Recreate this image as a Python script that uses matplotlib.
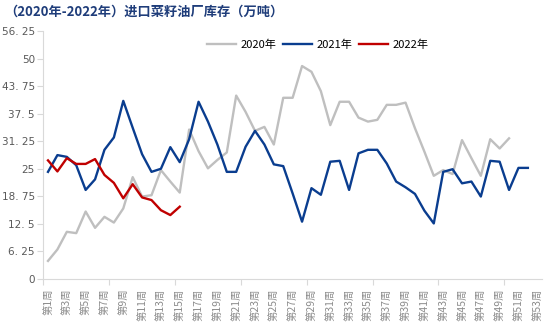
import matplotlib
matplotlib.use("Agg")
import matplotlib.pyplot as plt
import numpy as np

plt.rcParams['font.family'] = ['Noto Sans CJK SC', 'DejaVu Sans']

# weekly stock, 10k tonnes
weeks = list(range(1, 54))
y2020 = [4.1, 6.7, 10.7, 10.4, 15.3, 11.6, 14.1, 12.8, 16.0, 23.1,
         18.7, 19.0, 24.7, 22.1, 19.6, 33.9, 29.0, 25.1, 27.0, 28.7,
         41.6, 37.9, 33.6, 34.5, 30.5, 41.1, 41.1, 48.3, 47.0, 42.6,
         34.9, 40.2, 40.2, 36.6, 35.7, 36.1, 39.5, 39.5, 40.0, 34.2,
         28.9, 23.4, 24.7, 23.8, 31.5, 27.4, 23.4, 31.7, 29.6, 31.9]
y2021 = [24.3, 28.1, 27.7, 25.8, 20.2, 22.6, 29.3, 32.1, 40.4, 34.3,
         28.3, 24.3, 25.0, 29.9, 26.5, 31.7, 40.2, 35.7, 30.5, 24.3,
         24.3, 30.0, 33.6, 30.5, 26.0, 25.6, 19.4, 13.0, 20.6, 19.1,
         26.6, 26.8, 20.2, 28.5, 29.3, 29.3, 26.2, 22.1, 20.8, 19.3,
         15.5, 12.6, 24.3, 24.9, 21.7, 22.1, 18.7, 26.8, 26.6, 20.2,
         25.2, 25.2]
y2022 = [26.9, 24.4, 27.4, 26.1, 26.1, 27.2, 23.6, 21.8, 18.3, 21.5,
         18.5, 17.9, 15.6, 14.5, 16.4]

yticks = [0, 6.25, 12.5, 18.75, 25, 31.25, 37.5, 43.75, 50, 56.25]
ytick_labels = ["0", "6. 25", "12. 5", "18. 75", "25", "31. 25", "37. 5",
                "43. 75", "50", "56. 25"]
xtick_weeks = weeks[::2]
xtick_labels = ["第%d周" % w for w in xtick_weeks]

fig = plt.figure(figsize=(5.44, 3.34), dpi=100)
ax = fig.add_axes([0.0796, 0.1647, 0.9167, 0.7425])

ax.plot(weeks[:len(y2020)], y2020, color='#bfbfbf', lw=1.7, label='2020年')
ax.plot(weeks[:len(y2021)], y2021, color='#0a3d8f', lw=1.7, label='2021年')
ax.plot(weeks[:len(y2022)], y2022, color='#c00000', lw=1.7, label='2022年')

ax.set_xlim(0.5, 53.5)
ax.set_ylim(0, 56.25)
ax.set_yticks(yticks)
ax.set_yticklabels(ytick_labels, color='#595959', fontsize=7.5, family='DejaVu Sans')

# category boundaries every 7 weeks as tick marks, labels on odd weeks
ax.set_xticks(np.arange(0.5, 53.5, 7))
ax.set_xticklabels([])
ax.set_xticks(xtick_weeks, minor=True)
ax.set_xticklabels(xtick_labels, minor=True, rotation=90, fontsize=7.5,
                   color='#8c8c8c')
ax.tick_params(axis='x', which='major', length=4, color='#d9d9d9')
ax.tick_params(axis='x', which='minor', length=0, pad=7)
ax.tick_params(axis='y', length=4, color='#d9d9d9', pad=2)

for s in ['top', 'right']:
    ax.spines[s].set_visible(False)
for s in ['left', 'bottom']:
    ax.spines[s].set_color('#d9d9d9')

leg = ax.legend(loc='center', bbox_to_anchor=(0.55, 0.945), ncol=3,
                frameon=False, fontsize=8, handlelength=2.6,
                columnspacing=0.6, handletextpad=0.4)

fig.text(0.008, 0.965, "（2020年-2022年）进口菜籽油厂库存（万吨）",
         fontsize=9.5, fontweight='bold', color='#1f3d7a', va='center')

fig.savefig('out.png', dpi=100)
